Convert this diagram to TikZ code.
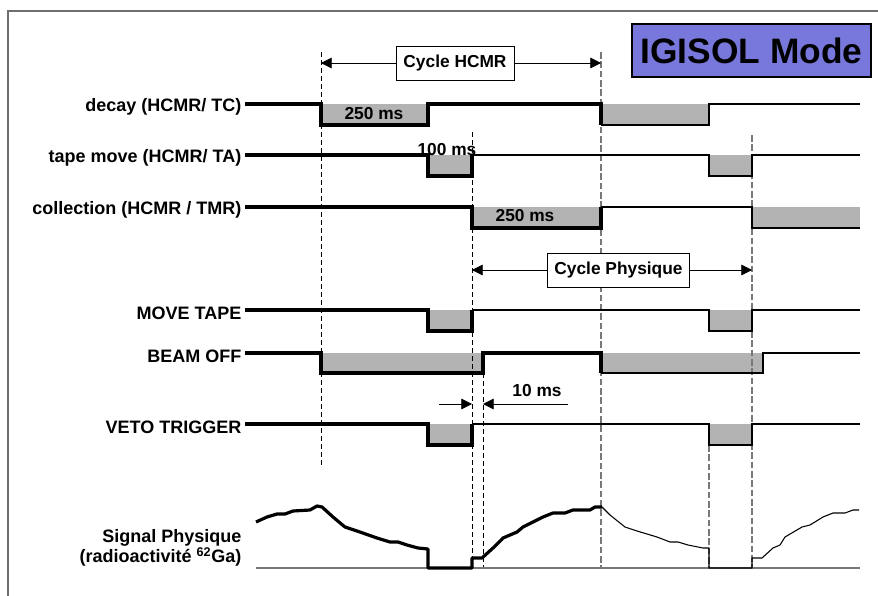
\documentclass[tikz,border=0pt]{standalone}
\usepackage{fontspec}
\setmainfont{Liberation Sans}
\usetikzlibrary{arrows.meta}
\definecolor{fillg}{RGB}{179,179,179}
\definecolor{igis}{RGB}{120,120,220}
\definecolor{frameg}{RGB}{110,110,110}
\definecolor{guideg}{RGB}{120,120,120}
\begin{document}
\begin{tikzpicture}[x=0.75pt,y=-0.75pt,
  thicksig/.style={line width=2.4pt, line join=miter},
  thinsig/.style={line width=0.8pt, line join=miter},
  lab/.style={anchor=east, font=\bfseries\fontsize{13.5}{15.5}\selectfont, inner xsep=1pt, inner ysep=0pt, align=right},
  inlab/.style={font=\bfseries\fontsize{13}{15}\selectfont, inner sep=0pt},
  guide/.style={line width=0.6pt, dash pattern=on 4pt off 2pt},
  guidegray/.style={guideg, line width=0.8pt, dash pattern=on 5pt off 2pt},
  tagbox/.style={draw, line width=0.6pt, fill=white, font=\bfseries\fontsize{13}{15}\selectfont, inner sep=0pt},
  tip/.style={line width=0.6pt, -{Triangle[length=8pt,width=8pt]}}
]
\useasboundingbox (0,0) rectangle (878,596);
% frame
\draw[frameg, line width=0.8pt] (8,596) -- (8,11) -- (878,11);

% guide coordinates
\coordinate (gA) at (321,52);
\coordinate (gB) at (472,132);
\coordinate (gC) at (483,373);
\coordinate (gD) at (601,52);
\coordinate (gE) at (752,135);
\coordinate (gF) at (709,445);

% fills
\fill[fillg] (321,104) rectangle (428,125);
\fill[fillg] (601,104) rectangle (709,125);
\fill[fillg] (428,155) rectangle (472,176);
\fill[fillg] (709,155) rectangle (752,176);
\fill[fillg] (472,207) rectangle (601,228);
\fill[fillg] (752,207) rectangle (860,228);
\fill[fillg] (428,310) rectangle (472,331);
\fill[fillg] (709,310) rectangle (752,331);
\fill[fillg] (321,353) rectangle (483,373);
\fill[fillg] (601,353) rectangle (763,373);
\fill[fillg] (428,424) rectangle (472,445);
\fill[fillg] (709,424) rectangle (752,445);

% guides
\draw[guide] (gA) -- (321,466);
\draw[guide] (gB) -- (472,568);
\draw[guide] (gC) -- (483,568);
\draw[guidegray] (gD) -- (601,568);
\draw[guidegray] (gE) -- (752,568);
\draw[guidegray] (gF) -- (709,568);

% labels
\node[lab] (dec) at (243,107) {decay (HCMR/ TC)};
\node[lab] (tm) at (243,158) {tape move (HCMR/ TA)};
\node[lab] (col) at (243,210) {collection (HCMR / TMR)};
\node[lab] (mt) at (243,313) {MOVE TAPE};
\node[lab] (bo) at (243,356) {BEAM OFF};
\node[lab] (vt) at (243,427) {VETO TRIGGER};
\node[lab] (sp) at (243,548) {Signal Physique\\(radioactivité \textsuperscript{62}Ga)};

\coordinate (decS) at (245,104);
\coordinate (tmS) at (245,155);
\coordinate (colS) at (245,207);
\coordinate (mtS) at (245,310);
\coordinate (boS) at (245,353);
\coordinate (vtS) at (245,424);

% decay
\draw[thicksig] (decS) -- (321,104) -- (321,125) -- (428,125) -- (428,104) -- (601,104) -- (601,125);
\draw[thinsig] (601,125) -- (709,125) -- (709,104) -- (860,104);
\node[inlab] (d250) at (374,114) {250 ms};
% tape move
\draw[thicksig] (tmS) -- (428,155) -- (428,176) -- (472,176) -- (472,155);
\draw[thinsig] (472,155) -- (709,155) -- (709,176) -- (752,176) -- (752,155) -- (860,155);
\node[inlab] (t100) at (447,150) {100 ms};
% collection
\draw[thicksig] (colS) -- (472,207) -- (472,228) -- (601,228) -- (601,207);
\draw[thinsig] (601,207) -- (752,207) -- (752,228) -- (860,228);
\node[inlab] (c250) at (525,216) {250 ms};
% move tape
\draw[thicksig] (mtS) -- (428,310) -- (428,331) -- (472,331) -- (472,310);
\draw[thinsig] (472,310) -- (709,310) -- (709,331) -- (752,331) -- (752,310) -- (860,310);
% beam off
\draw[thicksig] (boS) -- (321,353) -- (321,373) -- (483,373) -- (483,353) -- (601,353) -- (601,373);
\draw[thinsig] (601,373) -- (763,373) -- (763,353) -- (860,353);
% veto trigger
\draw[thicksig] (vtS) -- (428,424) -- (428,445) -- (472,445) -- (472,424);
\draw[thinsig] (472,424) -- (709,424) -- (709,445) -- (752,445) -- (752,424) -- (860,424);

% signal physique
\draw[guideg, line width=1.3pt] (256,568) -- (860,568);
\draw[thicksig, line join=round] (256,522) -- (267,517) -- (277,514) -- (285,514) -- (293,511) -- (310,510) -- (317,506) -- (322,507) -- (333,517) -- (345,527) -- (357,531) -- (377,538) -- (390,542) -- (398,542) -- (407,545) -- (418,548) -- (428,549) -- (428,568) -- (472,568) -- (472,558) -- (482,558) -- (493,548) -- (503,538) -- (517,532) -- (523,527) -- (533,522) -- (543,517) -- (553,513) -- (565,513) -- (573,510) -- (590,510) -- (595,507) -- (602,507);
\draw[thinsig, line join=round] (602,507) -- (610,515) -- (625,527) -- (637,531) -- (657,537) -- (670,542) -- (678,542) -- (688,545) -- (703,548) -- (709,548) -- (709,568) -- (752,568) -- (752,558) -- (762,558) -- (773,548) -- (780,545) -- (785,537) -- (802,527) -- (810,525) -- (823,517) -- (833,513) -- (845,513) -- (853,510) -- (859,510);

% Cycle HCMR
\node[tagbox, minimum width=88.5pt, minimum height=25.5pt] (hcmr) at (455,63) {Cycle HCMR};
\draw[tip] (hcmr.west) -- (hcmr.west -| gA);
\draw[tip] (hcmr.east) -- (hcmr.east -| gD);

% Cycle Physique
\node[tagbox, minimum width=107pt, minimum height=25.5pt] (phys) at (618.5,270) {Cycle Physique};
\draw[tip] (phys.west) -- (phys.west -| gB);
\draw[tip] (phys.east) -- (phys.east -| gE);

% 10 ms
\coordinate (tenL) at (439,404);
\coordinate (tenR) at (568,404);
\draw[tip] (tenL) -- (tenL -| gB);
\draw[tip] (tenR) -- (tenR -| gC);
\node[inlab] (ten) at (537,391) {10 ms};

% IGISOL Mode
\node[draw, line width=1.7pt, fill=igis, minimum width=179pt, minimum height=39.5pt, inner sep=0pt, font=\bfseries\fontsize{26.5}{30}\selectfont] (igisol) at (751.5,50.5) {IGISOL Mode};
\end{tikzpicture}
\end{document}
